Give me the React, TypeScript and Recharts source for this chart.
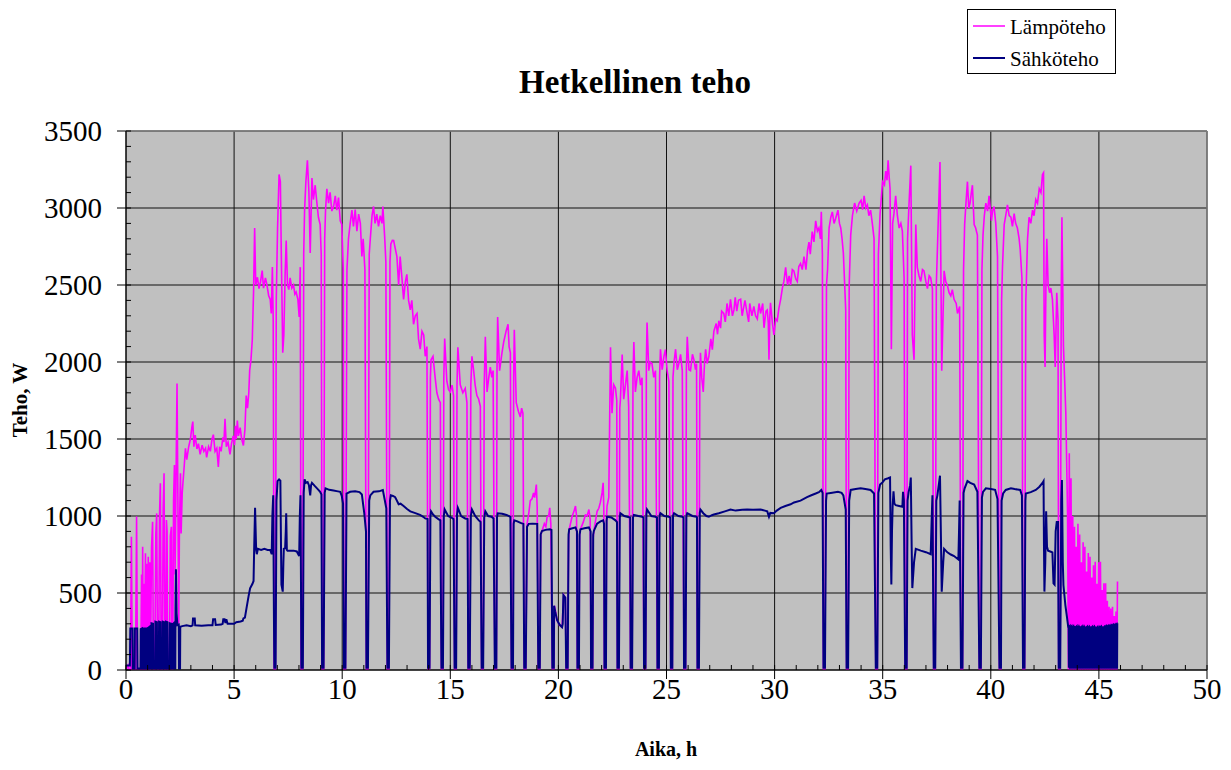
import React from "react";
import { LineChart, Line, XAxis, YAxis, CartesianGrid, ReferenceLine } from "recharts";

type Pt = [number, number];

// Lämpöteho [aika h, teho W]
const lampoAlku: Pt[] = [
  [0, 0], [0.1, 30], [0.14, 0], [0.21, 0], [0.25, 866], [0.29, 0], [0.44, 0], [0.49, 996], [0.53, 0],
  [0.68, 0], [0.72, 620], [0.75, 0], [0.77, 801], [0.8, 0], [0.84, 560], [0.86, 0], [0.9, 758], [0.93, 0],
  [0.96, 690], [0.98, 0], [1.03, 736], [1.06, 0], [1.1, 700], [1.13, 0], [1.18, 790], [1.23, 963], [1.27, 0],
  [1.33, 0], [1.38, 887], [1.42, 1017], [1.46, 0], [1.51, 0], [1.55, 1000], [1.59, 1212], [1.63, 0],
  [1.68, 0], [1.72, 1050], [1.76, 1277], [1.8, 0], [1.84, 0], [1.87, 974], [1.9, 900], [1.93, 0],
  [2.01, 0], [2.05, 870], [2.1, 930], [2.13, 0], [2.16, 0], [2.2, 1100], [2.24, 1331], [2.27, 620],
  [2.3, 1050], [2.36, 1861], [2.4, 1104], [2.44, 300], [2.47, 900], [2.52, 1277], [2.55, 887], [2.6, 1150],
  [2.69, 1320], [2.75, 1440], [2.81, 1366], [2.9, 1450], [2.98, 1500], [3.05, 1580], [3.09, 1613],
  [3.14, 1450], [3.2, 1526], [3.28, 1435], [3.35, 1470], [3.43, 1400], [3.52, 1460], [3.6, 1420],
  [3.68, 1440], [3.73, 1380], [3.82, 1450], [3.9, 1420], [3.98, 1500], [4.04, 1528], [4.12, 1420],
  [4.2, 1440], [4.27, 1319], [4.33, 1450], [4.4, 1420], [4.48, 1510], [4.53, 1480], [4.58, 1632],
  [4.64, 1450], [4.72, 1480], [4.81, 1400], [4.88, 1470], [4.96, 1520], [5.02, 1460], [5.06, 1585],
  [5.1, 1500], [5.15, 1620], [5.2, 1520], [5.28, 1574], [5.35, 1500], [5.43, 1458], [5.5, 1560],
  [5.56, 1782], [5.62, 1700], [5.68, 1800], [5.72, 1944], [5.78, 2014], [5.84, 2141], [5.9, 2454],
  [5.95, 2870], [6.0, 2500], [6.08, 2550], [6.15, 2477], [6.22, 2520], [6.3, 2593], [6.36, 2480],
  [6.45, 2546], [6.52, 2500], [6.6, 2430], [6.67, 2407], [6.72, 2315], [6.77, 2616], [6.81, 2268],
  [6.85, 0], [6.91, 0],
];

const lampoPaiva1: Pt[] = [
  [6.95, 2400], [7.01, 2870], [7.08, 3218], [7.14, 3171], [7.19, 2639], [7.25, 2060], [7.3, 2176],
  [7.36, 2569], [7.41, 2789], [7.47, 2500], [7.53, 2470], [7.59, 2546], [7.67, 2480], [7.75, 2500],
  [7.81, 2440], [7.87, 2454], [7.95, 2407], [8.01, 2292], [8.06, 2616], [8.1, 0], [8.17, 0],
  [8.22, 2700], [8.26, 2986], [8.32, 3171], [8.39, 3310], [8.46, 3102], [8.52, 2708], [8.6, 3194],
  [8.67, 3055], [8.75, 3148], [8.83, 3032], [8.9, 2940], [8.98, 2893], [9.03, 2700], [9.07, 0], [9.14, 0],
  [9.19, 2800], [9.23, 2986], [9.29, 3125], [9.37, 3032], [9.44, 3102], [9.52, 2980], [9.6, 3009],
  [9.68, 3079], [9.75, 2986], [9.83, 3067], [9.91, 2917], [9.98, 2893], [10.05, 2600], [10.08, 0],
  [10.15, 0], [10.22, 2600], [10.29, 2800], [10.37, 2900], [10.45, 2986], [10.52, 2880], [10.6, 2990],
  [10.68, 2850], [10.76, 2960], [10.84, 2900], [10.91, 2685], [10.97, 2800], [11.05, 2600], [11.12, 0],
  [11.19, 0], [11.25, 2700], [11.3, 2800], [11.38, 2950], [11.45, 3010], [11.52, 2900], [11.6, 2960],
  [11.68, 2880], [11.76, 2950], [11.84, 2900], [11.88, 3010], [11.96, 2824], [12.02, 2650], [12.09, 0],
  [12.16, 0], [12.21, 2650], [12.25, 2766], [12.32, 2790], [12.38, 2789], [12.45, 2740], [12.53, 2685],
  [12.61, 2500], [12.68, 2685], [12.76, 2550], [12.84, 2407], [12.92, 2520], [12.99, 2569], [13.07, 2400],
  [13.15, 2338], [13.22, 2400], [13.3, 2245], [13.38, 2300], [13.46, 2315], [13.53, 2150], [13.61, 2083],
  [13.69, 2200], [13.77, 2176], [13.84, 2037], [13.92, 2100], [13.97, 0], [14.04, 0],
  [14.08, 1900], [14.11, 2014], [14.2, 2037], [14.3, 1898], [14.38, 1800], [14.46, 1759], [14.54, 1736],
  [14.59, 0], [14.66, 0], [14.7, 1900], [14.74, 2153], [14.84, 1875], [14.92, 1820], [15.0, 1805],
  [15.08, 1850], [15.15, 1782], [15.2, 0], [15.27, 0], [15.31, 1850], [15.35, 2095], [15.46, 1852],
  [15.58, 1800], [15.69, 1829], [15.77, 1736], [15.83, 0], [15.9, 0], [15.95, 1850], [16.0, 2037],
  [16.08, 1944], [16.15, 1850], [16.23, 1782], [16.31, 1760], [16.39, 1713], [16.45, 0], [16.52, 0],
  [16.57, 1850], [16.62, 2164], [16.7, 1805], [16.78, 1900], [16.85, 1967], [16.92, 1900], [16.98, 1944],
  [17.06, 0], [17.13, 0], [17.16, 1950], [17.19, 2292], [17.28, 1944], [17.38, 2050], [17.47, 2130],
  [17.58, 2200], [17.67, 2245], [17.72, 2100], [17.78, 2060], [17.83, 0], [17.9, 0], [17.93, 1900],
  [17.96, 2210], [18.05, 1736], [18.15, 1680], [18.24, 1643], [18.3, 1700], [18.36, 1667], [18.42, 0],
  [18.49, 0], [18.55, 950], [18.63, 1018], [18.7, 1100], [18.78, 1111], [18.85, 1150], [18.9, 1120],
  [18.98, 1204], [19.02, 1050], [19.07, 0], [19.14, 0], [19.18, 880], [19.24, 903], [19.35, 950],
  [19.42, 930], [19.48, 995], [19.55, 1000], [19.6, 1053], [19.65, 950], [19.72, 0], [19.79, 0],
  [19.82, 417], [19.94, 324], [20.05, 290], [20.17, 278], [20.22, 420], [20.25, 486], [20.32, 470],
  [20.36, 0], [20.43, 0],
];

const lampoPaiva2: Pt[] = [
  [20.47, 850], [20.5, 914], [20.63, 995], [20.72, 1030], [20.79, 1065], [20.84, 1000], [20.88, 0],
  [20.95, 0], [20.98, 870], [21.02, 914], [21.15, 960], [21.25, 1007], [21.33, 1000], [21.41, 1042],
  [21.47, 980], [21.51, 0], [21.58, 0], [21.61, 860], [21.64, 903], [21.79, 1030], [21.87, 1050],
  [21.94, 1088], [22.02, 1150], [22.07, 1215], [22.1, 1050], [22.13, 0], [22.2, 0], [22.23, 1000],
  [22.25, 1065], [22.33, 1120], [22.41, 2095], [22.48, 1667], [22.56, 1852], [22.64, 1829], [22.7, 1750],
  [22.73, 0], [22.8, 0], [22.84, 1700], [22.87, 1759], [22.95, 2049], [23.02, 1759], [23.1, 1850],
  [23.18, 1944], [23.25, 1713], [23.34, 0], [23.41, 0], [23.45, 1900], [23.49, 2130], [23.56, 1805],
  [23.64, 1900], [23.72, 1944], [23.8, 1850], [23.87, 1898], [23.96, 0], [24.03, 0], [24.07, 2000],
  [24.1, 2257], [24.18, 1944], [24.25, 2000], [24.33, 1990], [24.41, 1900], [24.49, 1944], [24.58, 0],
  [24.65, 0], [24.68, 1900], [24.72, 2083], [24.8, 1950], [24.88, 2037], [24.95, 2080], [25.03, 1944],
  [25.11, 1875], [25.2, 0], [25.27, 0], [25.3, 1900], [25.35, 2000], [25.42, 2083], [25.5, 1950],
  [25.57, 1990], [25.65, 2050], [25.73, 1944], [25.81, 0], [25.88, 0], [25.92, 1950], [25.96, 2164],
  [26.04, 1950], [26.11, 1944], [26.2, 2050], [26.27, 2014], [26.34, 1950], [26.39, 1990], [26.43, 0],
  [26.5, 0], [26.54, 1850], [26.57, 2060], [26.63, 1900], [26.7, 1805], [26.76, 2000], [26.81, 2083],
  [26.88, 1990], [26.96, 2037], [27.05, 2150], [27.12, 2080], [27.19, 2199], [27.3, 2250], [27.36, 2180],
  [27.42, 2268], [27.5, 2220], [27.55, 2330], [27.65, 2315], [27.72, 2260], [27.8, 2380], [27.88, 2300],
  [27.96, 2407], [28.05, 2300], [28.12, 2338], [28.18, 2420], [28.25, 2330], [28.33, 2400], [28.43, 2407],
  [28.5, 2300], [28.55, 2340], [28.63, 2400], [28.73, 2315], [28.8, 2260], [28.85, 2380], [28.95, 2300],
  [29.04, 2361], [29.12, 2300], [29.2, 2280], [29.28, 2380], [29.35, 2315], [29.45, 2380], [29.51, 2222],
  [29.6, 2330], [29.66, 2338], [29.71, 2250], [29.74, 2014], [29.78, 2300], [29.81, 2384], [29.9, 2250],
  [29.97, 2176], [30.05, 2280], [30.12, 2268], [30.2, 2350], [30.28, 2407], [30.36, 2480], [30.43, 2523],
  [30.51, 2615], [30.6, 2500], [30.67, 2560], [30.74, 2500], [30.82, 2600], [30.89, 2592], [30.98, 2540],
  [31.05, 2523], [31.12, 2620], [31.2, 2639], [31.28, 2600], [31.36, 2685], [31.45, 2600], [31.52, 2720],
  [31.59, 2778], [31.65, 2700], [31.74, 2847], [31.82, 2780], [31.9, 2917], [31.98, 2850], [32.05, 2870],
  [32.12, 2800], [32.16, 2975], [32.21, 2700], [32.26, 0], [32.33, 0], [32.4, 2500], [32.45, 2600],
  [32.52, 2870], [32.6, 2940], [32.67, 2975], [32.75, 2900], [32.82, 2930], [32.93, 2986], [33.0, 2900],
  [33.06, 2870], [33.12, 2800], [33.18, 2708], [33.29, 2338], [33.33, 0], [33.4, 0], [33.45, 2500],
  [33.52, 2824], [33.6, 2950], [33.7, 3032], [33.8, 2980], [33.91, 3032], [34.0, 3050], [34.07, 2990],
  [34.14, 3079], [34.22, 3000], [34.29, 3020], [34.36, 2950], [34.44, 2986], [34.52, 2900], [34.6, 2801],
  [34.68, 0], [34.75, 0], [34.8, 2700], [34.88, 2963], [34.99, 3171], [35.08, 3150], [35.14, 3240],
  [35.2, 3180], [35.25, 3310], [35.3, 3200], [35.34, 3125], [35.4, 2083], [35.46, 2900], [35.52, 2963],
  [35.6, 3079], [35.68, 2950], [35.76, 2870], [35.84, 2900], [35.91, 2850], [35.99, 2546], [36.04, 0],
  [36.11, 0],
];

const lampoLoppu: Pt[] = [
  [36.15, 2800], [36.22, 3032], [36.3, 3275], [36.37, 2176], [36.45, 2014], [36.53, 2893], [36.6, 2615],
  [36.68, 2560], [36.76, 2523], [36.84, 2600], [36.91, 2592], [37.0, 2520], [37.07, 2477], [37.15, 2560],
  [37.22, 2546], [37.3, 2477], [37.36, 0], [37.43, 0], [37.48, 2500], [37.53, 2731], [37.65, 3298],
  [37.73, 1944], [37.84, 2592], [37.92, 2520], [37.99, 2500], [38.07, 2450], [38.15, 2430], [38.22, 2470],
  [38.3, 2407], [38.4, 2380], [38.46, 2315], [38.56, 2361], [38.62, 0], [38.69, 0], [38.74, 2600],
  [38.79, 2893], [38.86, 3050], [38.92, 3171], [38.98, 3000], [39.04, 3032], [39.1, 3100], [39.15, 3148],
  [39.23, 2893], [39.3, 2870], [39.38, 2824], [39.47, 0], [39.54, 0], [39.59, 2600], [39.64, 2824],
  [39.7, 2950], [39.77, 3032], [39.85, 2980], [39.92, 3079], [40.03, 2917], [40.08, 2980], [40.15, 3009],
  [40.23, 2900], [40.31, 2685], [40.4, 0], [40.47, 0], [40.5, 2400], [40.54, 2615], [40.62, 2893],
  [40.69, 2950], [40.77, 3020], [40.85, 2950], [40.93, 2940], [41.0, 2880], [41.08, 2963], [41.15, 2900],
  [41.23, 2870], [41.31, 2801], [41.36, 2731], [41.44, 2546], [41.49, 0], [41.56, 0], [41.62, 2400],
  [41.7, 2801], [41.77, 2940], [41.85, 2900], [41.93, 2986], [42.0, 2950], [42.08, 3055], [42.16, 3030],
  [42.24, 3125], [42.32, 3100], [42.39, 3217], [42.44, 3229], [42.47, 2176], [42.51, 1968], [42.55, 2500],
  [42.59, 2800], [42.65, 2500], [42.72, 2450], [42.78, 2480], [42.85, 2407], [42.93, 2176], [42.98, 1968],
  [43.05, 2450], [43.11, 2268], [43.14, 0], [43.21, 0], [43.26, 2500], [43.29, 2940], [43.36, 2106],
  [43.47, 1667], [43.55, 1018], [43.59, 0],
  [43.63, 1407], [43.67, 0], [43.71, 1245], [43.75, 0], [43.79, 1000], [43.83, 0], [43.87, 930], [43.91, 0],
  [43.95, 800], [43.99, 0], [44.03, 950], [44.07, 0], [44.11, 880], [44.15, 0], [44.19, 700], [44.23, 0],
  [44.27, 830], [44.31, 0], [44.35, 800], [44.39, 0], [44.43, 640], [44.47, 0], [44.51, 760], [44.55, 0],
  [44.59, 736], [44.63, 0], [44.67, 600], [44.71, 0], [44.75, 680], [44.79, 0], [44.83, 703], [44.87, 0],
  [44.91, 560], [44.95, 0], [44.99, 700], [45.03, 0], [45.07, 703], [45.11, 0], [45.15, 520], [45.19, 0],
  [45.23, 563], [45.27, 0], [45.31, 563], [45.35, 0], [45.39, 450], [45.43, 0], [45.47, 411], [45.51, 0],
  [45.55, 400], [45.59, 0], [45.63, 411], [45.67, 0], [45.71, 350], [45.75, 0], [45.79, 380], [45.83, 0],
  [45.86, 574],
];

// Sähköteho [aika h, teho W]
const sahkoAlku: Pt[] = [
  [0, 30], [0.18, 30], [0.2, 270], [0.3, 270], [0.31, 10], [0.4, 10], [0.41, 270], [0.52, 270], [0.53, 10],
  [0.67, 10], [0.68, 265], [0.74, 270], [0.75, 10], [0.77, 10], [0.78, 270], [0.83, 270], [0.84, 10],
  [0.87, 10], [0.88, 270], [0.94, 270], [0.95, 10], [0.97, 10], [0.98, 270], [1.04, 275], [1.05, 10],
  [1.07, 10], [1.08, 280], [1.13, 285], [1.14, 10], [1.17, 10], [1.18, 303], [1.25, 300], [1.26, 10],
  [1.35, 10], [1.36, 314], [1.43, 310], [1.44, 10], [1.52, 10], [1.53, 314], [1.6, 310], [1.61, 10],
  [1.69, 10], [1.7, 314], [1.77, 310], [1.78, 10], [1.84, 10], [1.85, 314], [1.92, 310], [1.93, 10],
  [2.02, 10], [2.03, 303], [2.1, 300], [2.11, 10], [2.17, 10], [2.18, 300], [2.25, 310], [2.26, 10],
  [2.28, 10], [2.29, 400], [2.31, 654], [2.34, 368], [2.38, 292], [2.44, 295], [2.45, 10], [2.5, 10],
  [2.51, 281], [2.6, 285], [2.8, 290], [3.0, 285], [3.08, 290], [3.1, 335], [3.18, 335], [3.2, 290],
  [3.5, 288], [3.8, 290], [4.0, 290], [4.03, 330], [4.12, 330], [4.15, 292], [4.4, 295], [4.47, 300],
  [4.5, 330], [4.56, 330], [4.6, 305], [4.64, 330], [4.7, 300], [5.0, 300], [5.1, 310], [5.3, 315],
  [5.4, 320], [5.43, 335], [5.5, 340], [5.59, 415], [5.67, 480], [5.74, 530], [5.85, 560], [5.9, 578],
  [5.93, 800], [5.97, 1053], [6.02, 780], [6.05, 752], [6.1, 787], [6.25, 780], [6.4, 787], [6.55, 780],
  [6.67, 780], [6.74, 752], [6.77, 1000], [6.81, 1134], [6.84, 400], [6.86, 15], [6.92, 15],
];

const sahkoPaiva1: Pt[] = [
  [6.96, 1100], [7.01, 1227], [7.08, 1238], [7.14, 1230], [7.17, 800], [7.19, 555], [7.25, 509],
  [7.28, 700], [7.3, 787], [7.36, 790], [7.39, 900], [7.41, 1018], [7.44, 780], [7.47, 775], [7.6, 775],
  [7.75, 775], [7.9, 770], [8.01, 740], [8.04, 1000], [8.07, 1134], [8.1, 400], [8.11, 15], [8.18, 15],
  [8.22, 1150], [8.26, 1238], [8.32, 1215], [8.4, 1220], [8.46, 1200], [8.52, 1134], [8.56, 1200],
  [8.6, 1215], [8.75, 1192], [8.9, 1170], [8.98, 1157], [9.04, 1140], [9.07, 15], [9.14, 15],
  [9.19, 1150], [9.23, 1180], [9.4, 1170], [9.6, 1165], [9.8, 1160], [9.91, 1157], [9.98, 1130],
  [10.04, 1080], [10.08, 15], [10.15, 15], [10.2, 1145], [10.37, 1157], [10.6, 1160], [10.8, 1155],
  [10.91, 1140], [11.02, 1018], [11.1, 900], [11.12, 15], [11.19, 15], [11.25, 1100], [11.3, 1134],
  [11.45, 1157], [11.7, 1160], [11.88, 1169], [11.96, 1110], [12.04, 1050], [12.09, 15], [12.16, 15],
  [12.21, 1100], [12.25, 1134], [12.35, 1130], [12.45, 1122], [12.53, 1100], [12.61, 1076], [12.7, 1080],
  [12.84, 1065], [13.0, 1045], [13.15, 1030], [13.35, 1020], [13.6, 1007], [13.75, 995], [13.84, 984],
  [13.95, 980], [13.97, 15], [14.04, 15],
  [14.08, 1000], [14.11, 1030], [14.2, 1010], [14.3, 995], [14.45, 980], [14.54, 972], [14.59, 15],
  [14.66, 15], [14.7, 1000], [14.74, 1042], [14.9, 1000], [15.05, 990], [15.15, 980], [15.2, 15],
  [15.27, 15], [15.31, 1010], [15.35, 1053], [15.5, 1000], [15.69, 984], [15.8, 980], [15.83, 15],
  [15.9, 15], [15.95, 1000], [16.0, 1042], [16.15, 1000], [16.3, 975], [16.4, 961], [16.45, 15],
  [16.52, 15], [16.57, 990], [16.62, 1030], [16.75, 1000], [16.9, 995], [17.0, 984], [17.06, 15],
  [17.13, 15], [17.16, 990], [17.19, 1018], [17.4, 1015], [17.6, 1007], [17.78, 995], [17.83, 15],
  [17.9, 15], [17.93, 950], [17.96, 972], [18.1, 965], [18.25, 955], [18.38, 949], [18.42, 15],
  [18.49, 15], [18.55, 930], [18.63, 949], [18.8, 950], [19.02, 949], [19.07, 15], [19.14, 15],
  [19.18, 880], [19.24, 903], [19.4, 910], [19.6, 914], [19.68, 910], [19.72, 15], [19.79, 15],
  [19.8, 417], [19.85, 380], [19.94, 324], [20.05, 295], [20.17, 278], [20.2, 300], [20.23, 486],
  [20.32, 470], [20.36, 15], [20.43, 15],
];

const sahkoPaiva2: Pt[] = [
  [20.47, 880], [20.5, 914], [20.65, 920], [20.79, 926], [20.86, 900], [20.88, 15], [20.95, 15],
  [20.98, 880], [21.02, 914], [21.2, 920], [21.41, 926], [21.49, 900], [21.51, 15], [21.58, 15],
  [21.61, 880], [21.64, 903], [21.79, 950], [21.95, 965], [22.07, 972], [22.11, 950], [22.13, 15],
  [22.2, 15], [22.23, 970], [22.25, 995], [22.45, 990], [22.64, 972], [22.71, 960], [22.73, 15],
  [22.8, 15], [22.84, 990], [22.87, 1018], [23.05, 1000], [23.18, 995], [23.32, 990], [23.34, 15],
  [23.41, 15], [23.45, 990], [23.49, 1007], [23.7, 1000], [23.87, 995], [23.94, 990], [23.96, 15],
  [24.03, 15], [24.07, 1010], [24.1, 1042], [24.3, 1000], [24.49, 995], [24.56, 990], [24.58, 15],
  [24.65, 15], [24.68, 1000], [24.72, 1018], [24.9, 1000], [25.11, 995], [25.18, 990], [25.2, 15],
  [25.27, 15], [25.3, 1000], [25.35, 1018], [25.55, 1000], [25.73, 995], [25.79, 990], [25.81, 15],
  [25.88, 15], [25.92, 1000], [25.96, 1018], [26.2, 1000], [26.39, 995], [26.41, 990], [26.43, 15],
  [26.5, 15], [26.54, 1020], [26.57, 1042], [26.7, 1018], [26.85, 1000], [26.96, 995], [27.1, 1005],
  [27.19, 1010], [27.42, 1018], [27.7, 1030], [27.96, 1042], [28.2, 1035], [28.5, 1040], [28.73, 1042],
  [29.0, 1040], [29.35, 1042], [29.55, 1035], [29.66, 1030], [29.74, 995], [29.8, 1020], [29.97, 1018],
  [30.1, 1035], [30.28, 1053], [30.5, 1065], [30.74, 1076], [30.9, 1088], [31.2, 1100], [31.5, 1123],
  [31.7, 1135], [31.9, 1146], [32.05, 1155], [32.16, 1169], [32.22, 1150], [32.26, 15], [32.33, 15],
  [32.38, 1100], [32.41, 1146], [32.6, 1150], [32.93, 1157], [33.1, 1150], [33.18, 1134], [33.29, 1042],
  [33.33, 15], [33.4, 15], [33.45, 1100], [33.52, 1169], [33.75, 1175], [33.98, 1180], [34.2, 1175],
  [34.44, 1169], [34.6, 1146], [34.68, 15], [34.75, 15], [34.8, 1150], [34.88, 1204], [35.0, 1220],
  [35.1, 1238], [35.25, 1245], [35.34, 1250], [35.37, 800], [35.4, 555], [35.43, 900], [35.46, 1065],
  [35.5, 1160], [35.54, 1080], [35.6, 1070], [35.76, 1065], [35.91, 1060], [35.94, 1157], [35.98, 1100],
  [36.04, 15], [36.11, 15],
];

const sahkoLoppu: Pt[] = [
  [36.15, 1100], [36.2, 1157], [36.27, 1200], [36.3, 1250], [36.34, 800], [36.37, 532], [36.45, 700],
  [36.53, 787], [36.76, 775], [37.0, 765], [37.22, 752], [37.27, 1000], [37.3, 1134], [37.36, 15],
  [37.43, 15], [37.48, 1100], [37.53, 1134], [37.62, 1230], [37.65, 1262], [37.7, 800], [37.73, 509],
  [37.8, 700], [37.84, 787], [37.99, 764], [38.15, 750], [38.3, 740], [38.5, 718], [38.53, 900],
  [38.56, 1100], [38.62, 15], [38.69, 15], [38.74, 1150], [38.79, 1180], [38.92, 1227], [39.05, 1215],
  [39.23, 1204], [39.38, 1157], [39.47, 15], [39.54, 15], [39.59, 1120], [39.64, 1157], [39.77, 1180],
  [40.0, 1175], [40.2, 1170], [40.31, 1110], [40.4, 15], [40.47, 15], [40.5, 1100], [40.57, 1146],
  [40.69, 1169], [40.93, 1180], [41.1, 1175], [41.36, 1169], [41.44, 1134], [41.49, 15], [41.56, 15],
  [41.6, 1100], [41.62, 1146], [41.85, 1155], [42.08, 1169], [42.25, 1190], [42.39, 1215], [42.44, 1227],
  [42.46, 800], [42.48, 509], [42.52, 700], [42.56, 1030], [42.6, 800], [42.65, 775], [42.78, 768],
  [42.85, 764], [42.9, 563], [42.95, 555], [43.0, 900], [43.05, 961], [43.11, 961], [43.14, 15],
  [43.21, 15], [43.26, 1100], [43.29, 1234], [43.33, 700], [43.36, 550], [43.45, 420], [43.52, 346],
  [43.58, 281], [43.6, 281],
  [43.61, 15], [43.62, 281], [43.65, 285], [43.66, 15], [43.69, 15], [43.7, 280], [43.73, 284], [43.74, 15],
  [43.77, 15], [43.78, 278], [43.81, 282], [43.82, 15], [43.85, 15], [43.86, 280], [43.89, 276], [43.9, 15],
  [43.93, 15], [43.94, 279], [43.97, 283], [43.98, 15], [44.01, 15], [44.02, 277], [44.05, 281], [44.06, 15],
  [44.09, 15], [44.1, 280], [44.13, 275], [44.14, 15], [44.17, 15], [44.18, 278], [44.21, 282], [44.22, 15],
  [44.25, 15], [44.26, 276], [44.29, 280], [44.3, 15], [44.33, 15], [44.34, 279], [44.37, 274], [44.38, 15],
  [44.41, 15], [44.42, 277], [44.45, 281], [44.46, 15], [44.49, 15], [44.5, 275], [44.53, 279], [44.54, 15],
  [44.57, 15], [44.58, 278], [44.61, 273], [44.62, 15], [44.65, 15], [44.66, 276], [44.69, 280], [44.7, 15],
  [44.73, 15], [44.74, 274], [44.77, 278], [44.78, 15], [44.81, 15], [44.82, 277], [44.85, 272], [44.86, 15],
  [44.89, 15], [44.9, 275], [44.93, 279], [44.94, 15], [44.97, 15], [44.98, 273], [45.01, 277], [45.02, 15],
  [45.05, 15], [45.06, 276], [45.09, 280], [45.1, 15], [45.13, 15], [45.14, 278], [45.17, 274], [45.18, 15],
  [45.21, 15], [45.22, 277], [45.25, 281], [45.26, 15], [45.29, 15], [45.3, 279], [45.33, 283], [45.34, 15],
  [45.37, 15], [45.38, 281], [45.41, 285], [45.42, 15], [45.45, 15], [45.46, 283], [45.49, 287], [45.5, 15],
  [45.53, 15], [45.54, 285], [45.57, 289], [45.58, 15], [45.61, 15], [45.62, 287], [45.65, 291], [45.66, 15],
  [45.69, 15], [45.7, 289], [45.73, 293], [45.74, 15], [45.77, 15], [45.78, 290], [45.81, 295], [45.82, 15],
  [45.84, 15], [45.85, 303],
];

const lampoteho = [...lampoAlku, ...lampoPaiva1, ...lampoPaiva2, ...lampoLoppu];
const sahkoteho = [...sahkoAlku, ...sahkoPaiva1, ...sahkoPaiva2, ...sahkoLoppu];

const xTicks = [
  0, 1, 2, 3, 4, 5, 6, 7, 8, 9, 10, 11, 12, 13, 14, 15, 16, 17, 18, 19, 20, 21, 22, 23, 24, 25,
  26, 27, 28, 29, 30, 31, 32, 33, 34, 35, 36, 37, 38, 39, 40, 41, 42, 43, 44, 45, 46, 47, 48, 49, 50,
];
const xLabels = [0, 5, 10, 15, 20, 25, 30, 35, 40, 45, 50];
const yTicks = [
  0, 100, 200, 300, 400, 500, 600, 700, 800, 900, 1000, 1100, 1200, 1300, 1400, 1500, 1600, 1700,
  1800, 1900, 2000, 2100, 2200, 2300, 2400, 2500, 2600, 2700, 2800, 2900, 3000, 3100, 3200, 3300,
  3400, 3500,
];
const yLabels = [0, 500, 1000, 1500, 2000, 2500, 3000, 3500];

const toRows = (pts: Pt[]) => pts.map(([t, w]) => ({ t, w }));

const FONT = "'Liberation Serif', 'Times New Roman', serif";

function XTick({ x, y, payload }: any) {
  const v = payload.value;
  const major = xLabels.includes(v);
  return (
    <g>
      <line x1={x} x2={x} y1={y - 5} y2={major ? y + 9 : y} stroke="#000" />
      {major && (
        <text x={x} y={y + 8} dy="0.72em" textAnchor="middle" fontSize={29} fontFamily={FONT} fill="#000">
          {v}
        </text>
      )}
    </g>
  );
}

function YTick({ x, y, payload }: any) {
  const v = payload.value;
  const major = yLabels.includes(v);
  return (
    <g>
      <line x1={major ? x - 9 : x} x2={x + 5} y1={y} y2={y} stroke="#000" />
      {major && (
        <text x={x - 24} y={y} dy="0.35em" textAnchor="end" fontSize={29} fontFamily={FONT} fill="#000">
          {v}
        </text>
      )}
    </g>
  );
}

export default function App() {
  return (
    <div style={{ position: "relative", width: 1215, height: 754, fontFamily: FONT }}>
      <LineChart width={1215} height={754} margin={{ top: 123, right: 16, bottom: 52, left: 48 }}>
        <CartesianGrid
          fill="#C0C0C0"
          stroke="#111"
          horizontalValues={yLabels}
          verticalValues={xLabels}
        />
        <ReferenceLine y={3500} stroke="#808080" strokeWidth={1.5} />
        <ReferenceLine x={50} stroke="#808080" strokeWidth={1.5} />
        <XAxis
          dataKey="t"
          type="number"
          domain={[0, 50]}
          ticks={xTicks}
          interval={0}
          allowDataOverflow
          tickSize={0}
          tickMargin={0}
          tickLine={false}
          height={40}
          axisLine={{ stroke: "#000" }}
          tick={<XTick />}
        />
        <YAxis
          type="number"
          domain={[0, 3500]}
          ticks={yTicks}
          interval={0}
          allowDataOverflow
          tickSize={0}
          tickMargin={0}
          tickLine={false}
          width={70}
          axisLine={{ stroke: "#000" }}
          tick={<YTick />}
        />
        <Line
          data={toRows(lampoteho)}
          dataKey="w"
          name="Lämpöteho"
          type="linear"
          stroke="#FF00FF"
          strokeWidth={1.6}
          dot={false}
          activeDot={false}
          isAnimationActive={false}
        />
        <Line
          data={toRows(sahkoteho)}
          dataKey="w"
          name="Sähköteho"
          type="linear"
          stroke="#000080"
          strokeWidth={2}
          dot={false}
          activeDot={false}
          isAnimationActive={false}
        />
      </LineChart>
      <svg
        width={1215}
        height={754}
        style={{ position: "absolute", left: 0, top: 0, pointerEvents: "none" }}
      >
        <text x={627} y={85} textAnchor="middle" fontSize={33} fontWeight="bold" fontFamily={FONT}>
          Hetkellinen teho
        </text>
        <text x={658} y={748} textAnchor="middle" fontSize={20} fontWeight="bold" fontFamily={FONT}>
          Aika, h
        </text>
        <text
          x={19}
          y={392}
          textAnchor="middle"
          fontSize={21}
          fontWeight="bold"
          fontFamily={FONT}
          transform="rotate(-90 19 392)"
        >
          Teho, W
        </text>
        <rect x={959.5} y={1.5} width={148} height={64} fill="#fff" stroke="#000" />
        <line x1={965} x2={997} y1={18} y2={18} stroke="#FF00FF" strokeWidth={1.5} />
        <text x={1002} y={26} fontSize={21} fontFamily={FONT}>
          Lämpöteho
        </text>
        <line x1={965} x2={997} y1={50} y2={50} stroke="#000080" strokeWidth={2} />
        <text x={1002} y={58} fontSize={21} fontFamily={FONT}>
          Sähköteho
        </text>
      </svg>
    </div>
  );
}
